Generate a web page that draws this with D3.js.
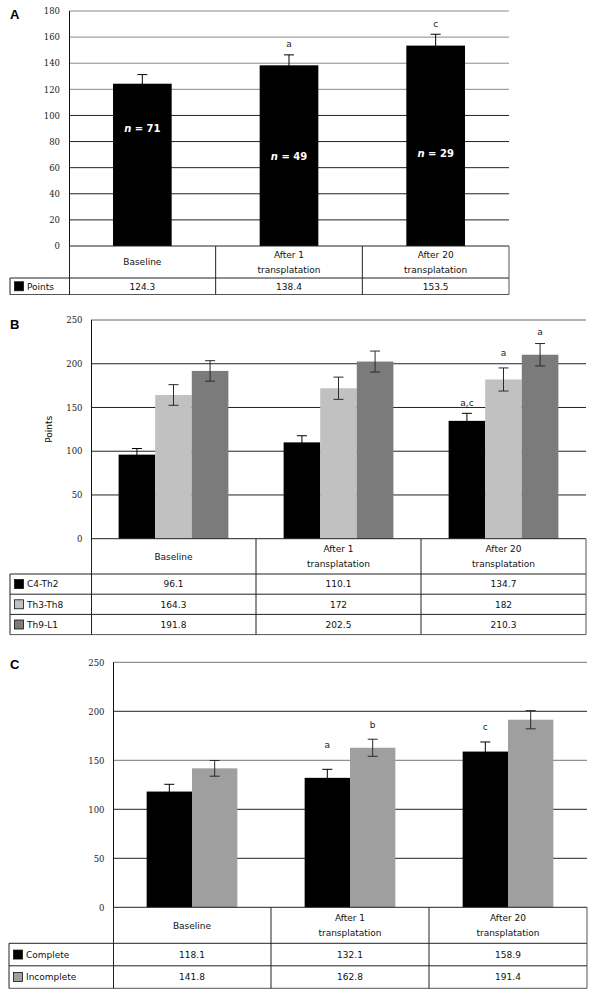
<!DOCTYPE html>
<html><head><meta charset="utf-8">
<script src="https://cdn.jsdelivr.net/npm/d3@7/dist/d3.min.js"></script>
<style>body{margin:0;background:#fff}</style>
</head><body>
<svg id="c" width="598" height="997"></svg>
<script>
// ---------- data ----------
const categories = ["Baseline", "After 1 transplatation", "After 20 transplatation"];
const categoryLines = [["Baseline"], ["After 1", "transplatation"], ["After 20", "transplatation"]];

// Panel A
const aTicks = [0, 20, 40, 60, 80, 100, 120, 140, 160, 180];
const aSeriesNames = ["Points"];
const aPoints = [124.3, 138.4, 153.5];
const aPointsErr = [7, 8, 8.7];
const aPointsSig = ["", "a", "c"];
const aPointsSigAt = [null, 154.7, 169.3];
const aN = ["71", "49", "29"];
const aNAt = [89.6, 68.2, 70.5];

// Panel B
const bTicks = [0, 50, 100, 150, 200, 250];
const bSeriesNames = ["C4-Th2", "Th3-Th8", "Th9-L1"];
const bC4Th2 = [96.1, 110.1, 134.7];
const bTh3Th8 = [164.3, 172, 182];
const bTh9L1 = [191.8, 202.5, 210.3];
const bC4Th2Err = [7, 7.6, 8.6];
const bTh3Th8Err = [11.8, 12.7, 13.2];
const bTh9L1Err = [11.7, 12, 12.8];
const bC4Th2Sig = ["", "", "a,c"];
const bTh3Th8Sig = ["", "", "a"];
const bTh9L1Sig = ["", "", "a"];
const bC4Th2SigAt = [null, null, 155.1];
const bTh3Th8SigAt = [null, null, 211.2];
const bTh9L1SigAt = [null, null, 235.2];

// Panel C
const cTicks = [0, 50, 100, 150, 200, 250];
const cSeriesNames = ["Complete", "Incomplete"];
const cComplete = [118.1, 132.1, 158.9];
const cIncomplete = [141.8, 162.8, 191.4];
const cCompleteErr = [7.4, 8.7, 9.8];
const cIncompleteErr = [8, 8.7, 9.3];
const cCompleteSig = ["", "a", "c"];
const cIncompleteSig = ["", "b", ""];
const cCompleteSigAt = [null, 164.9, 183.3];
const cIncompleteSigAt = [null, 185.3, null];

// ---------- drawing ----------
const svg = d3.select("#c");
const SANS = "'DejaVu Sans', Verdana, sans-serif";
const SERIF = "'DejaVu Serif', Georgia, serif";

function panel(o) {
  const g = svg.append("g");
  const y = d3.scaleLinear().domain([0, o.yMax]).range([o.zeroY, o.topY]);
  const x = d3.scaleBand().domain(categories).range([o.left, o.right]).padding(0);
  const names = o.series.map(s => s.name);
  const xi = d3.scaleBand().domain(names).range([0, x.bandwidth()]).paddingInner(0).paddingOuter(o.outerPad);

  g.append("text").attr("x", 10).attr("y", o.letterY).text(o.letter)
    .attr("font-family", "'Liberation Sans', Arial, sans-serif").attr("font-weight", "bold").attr("font-size", 13);

  g.selectAll("line.grid").data(o.ticks.filter(t => t > 0)).join("line")
    .attr("x1", o.left).attr("x2", o.right)
    .attr("y1", d => y(d)).attr("y2", d => y(d))
    .attr("stroke", d => o.gridColor(d)).attr("stroke-width", 1);

  const ax = g.append("g").attr("transform", `translate(${o.left},0)`)
    .call(d3.axisLeft(y).tickValues(o.ticks).tickSize(0).tickPadding(o.tickPad));
  ax.select(".domain").attr("stroke", "#111").attr("d", `M0.5,${o.topY}V${o.zeroY}`);
  ax.selectAll("text").attr("font-family", SERIF).attr("font-size", 8.5).attr("fill", "#222");

  if (o.yLabel) {
    g.append("text").attr("transform", `translate(${o.yLabelX},${(o.topY + o.zeroY) / 2}) rotate(-90)`)
      .attr("text-anchor", "middle").attr("dominant-baseline", "middle")
      .attr("font-family", SANS).attr("font-size", 9).text(o.yLabel);
  }

  o.series.forEach(s => {
    const sg = g.append("g");
    const errG = sg.append("g");
    const bars = sg.append("g");
    // black bars cover the lower half of their own error bars (as in the reference)
    if (s.color !== "#000") errG.raise();
    bars.selectAll("rect").data(categories).join("rect")
      .attr("x", (c) => x(c) + xi(s.name))
      .attr("width", xi.bandwidth())
      .attr("y", (c, i) => y(s.values[i]))
      .attr("height", (c, i) => y(0) - y(s.values[i]))
      .attr("fill", s.color);
    const cap = 5;
    const col = s.color === "#000" ? "#000" : "#2a2a2a";
    categories.forEach((c, i) => {
      const cx = x(c) + xi(s.name) + xi.bandwidth() / 2;
      const hi = y(s.values[i] + s.errors[i]), lo = y(s.values[i] - s.errors[i]);
      errG.append("line").attr("x1", cx).attr("x2", cx).attr("y1", hi).attr("y2", lo).attr("stroke", col);
      errG.append("line").attr("x1", cx - cap).attr("x2", cx + cap).attr("y1", hi).attr("y2", hi).attr("stroke", col);
      errG.append("line").attr("x1", cx - cap).attr("x2", cx + cap).attr("y1", lo).attr("y2", lo).attr("stroke", col);
      if (s.sig && s.sig[i]) {
        sg.append("text").attr("x", cx).attr("y", y(s.sigAt[i])).attr("text-anchor", "middle")
          .attr("dominant-baseline", "middle").attr("font-family", SANS).attr("font-size", 9).attr("fill", "#222")
          .text(s.sig[i]);
      }
      if (s.n) {
        const t = sg.append("text").attr("x", cx).attr("y", y(s.nAt[i])).attr("text-anchor", "middle")
          .attr("dominant-baseline", "middle").attr("font-family", SANS).attr("font-size", 10)
          .attr("font-weight", "bold").attr("fill", "#fff");
        t.append("tspan").attr("font-style", "italic").text("n");
        t.append("tspan").text(" = " + s.n[i]);
      }
    });
  });

  const catBottom = o.catBottom;
  const rowH = o.rowH;
  const tBottom = catBottom + rowH * o.series.length;
  const lc = "#222";
  const line = (x1, y1, x2, y2, c) => g.append("line").attr("x1", x1).attr("y1", y1).attr("x2", x2).attr("y2", y2)
    .attr("stroke", c || lc).attr("stroke-width", 1);
  line(o.left, o.zeroY, o.right, o.zeroY);
  line(o.tableLeft, catBottom, o.right, catBottom);
  o.series.forEach((s, k) => line(o.tableLeft, catBottom + rowH * (k + 1), o.right, catBottom + rowH * (k + 1), k === o.series.length - 1 ? "#555" : lc));
  line(o.tableLeft, catBottom, o.tableLeft, tBottom);
  line(o.left + 0.5, o.zeroY, o.left + 0.5, tBottom);
  categories.forEach((c, i) => {
    if (i > 0) line(x(c), o.zeroY, x(c), tBottom);
  });
  line(o.right, o.zeroY, o.right, tBottom, "#555");

  categories.forEach((c, i) => {
    const ls = categoryLines[i];
    const cy = (o.zeroY + catBottom) / 2;
    const t = g.append("text").attr("text-anchor", "middle").attr("font-family", SANS).attr("font-size", 9).attr("fill", "#111");
    ls.forEach((l, j) => {
      t.append("tspan").attr("x", x(c) + x.bandwidth() / 2)
        .attr("y", cy + (j - (ls.length - 1) / 2) * 14.5 + 3.3).text(l);
    });
  });
  o.series.forEach((s, k) => {
    const cy = catBottom + rowH * k + rowH / 2;
    g.append("rect").attr("x", o.tableLeft + 4.5).attr("y", cy - 4.5).attr("width", 9).attr("height", 9)
      .attr("fill", s.color).attr("stroke", "#111").attr("stroke-width", 0.8);
    g.append("text").attr("x", o.tableLeft + 17).attr("y", cy + 3.3).attr("font-family", SANS)
      .attr("font-size", 9).attr("fill", "#111").text(s.name);
    categories.forEach((c, i) => {
      g.append("text").attr("x", x(c) + x.bandwidth() / 2).attr("y", cy + 3.3).attr("text-anchor", "middle")
        .attr("font-family", SANS).attr("font-size", 9).attr("fill", "#111").text(String(s.values[i]));
    });
  });
}

panel({
  letter: "A", letterY: 18.5, left: 69, right: 509, topY: 11, zeroY: 246, yMax: 180,
  ticks: aTicks, tickPad: 9, outerPad: 0.75,
  gridColor: d => d >= 120 ? "#8a8a8a" : "#222",
  catBottom: 278, rowH: 16.5, tableLeft: 10,
  series: [{ name: aSeriesNames[0], values: aPoints, errors: aPointsErr, color: "#000",
    sig: aPointsSig, sigAt: aPointsSigAt, n: aN, nAt: aNAt }]
});

panel({
  letter: "B", letterY: 328.5, left: 91, right: 586, topY: 320, zeroY: 538.7, yMax: 250,
  ticks: bTicks, tickPad: 8.5, outerPad: 0.755,
  gridColor: d => d === 250 ? "#666" : "#222",
  yLabel: "Points", yLabelX: 49,
  catBottom: 574, rowH: 20.2, tableLeft: 10,
  series: [
    { name: bSeriesNames[0], values: bC4Th2, errors: bC4Th2Err, color: "#000", sig: bC4Th2Sig, sigAt: bC4Th2SigAt },
    { name: bSeriesNames[1], values: bTh3Th8, errors: bTh3Th8Err, color: "#c0c1c0", sig: bTh3Th8Sig, sigAt: bTh3Th8SigAt },
    { name: bSeriesNames[2], values: bTh9L1, errors: bTh9L1Err, color: "#7b7b7b", sig: bTh9L1Sig, sigAt: bTh9L1SigAt }
  ]
});

panel({
  letter: "C", letterY: 668.5, left: 113, right: 587, topY: 662.3, zeroY: 907.3, yMax: 250,
  ticks: cTicks, tickPad: 8.5, outerPad: 0.742,
  gridColor: d => (d === 250 || d === 150) ? "#777" : "#222",
  catBottom: 943.3, rowH: 22.5, tableLeft: 9,
  series: [
    { name: cSeriesNames[0], values: cComplete, errors: cCompleteErr, color: "#000", sig: cCompleteSig, sigAt: cCompleteSigAt },
    { name: cSeriesNames[1], values: cIncomplete, errors: cIncompleteErr, color: "#9f9f9f", sig: cIncompleteSig, sigAt: cIncompleteSigAt }
  ]
});
</script>
</body></html>
